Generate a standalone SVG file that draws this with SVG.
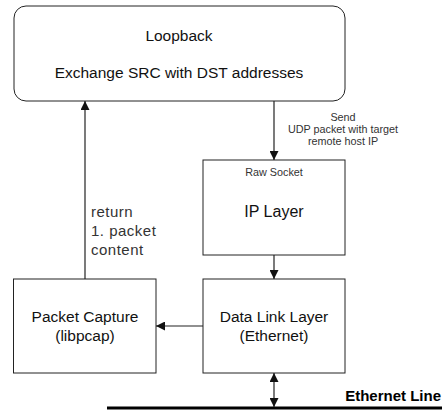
<svg xmlns="http://www.w3.org/2000/svg" width="444" height="410" viewBox="0 0 444 410">
<style>
.box{fill:#fff;stroke:#222;stroke-width:1}
.t{font-family:"Liberation Sans",Arial,sans-serif;fill:#111;text-anchor:middle}
.s{font-size:10.8px;fill:#333}
.m{font-size:15.5px}
.l{font-family:"Liberation Sans",Arial,sans-serif;font-size:15px;letter-spacing:0.5px;fill:#333}
.c{stroke:#222;stroke-width:1.2;fill:none}
</style>
<defs>
<marker id="ah" viewBox="0 0 10 10" refX="10" refY="5" markerWidth="9" markerHeight="9" markerUnits="userSpaceOnUse" orient="auto-start-reverse">
<path d="M0,0 L10,5 L0,10 z" fill="#111"/>
</marker>
</defs>
<rect width="444" height="410" fill="#fff"/>
<g id="loopback">
<rect class="box" x="14" y="6" width="331" height="95" rx="12"/>
<text class="t m" x="179" y="41">Loopback</text>
<text class="t m" x="179" y="78">Exchange SRC with DST addresses</text>
</g>
<g id="ip-layer">
<rect class="box" x="203" y="160" width="142" height="95"/>
<text class="t s" x="274" y="176">Raw Socket</text>
<text class="t" x="274" y="217" font-size="16">IP Layer</text>
</g>
<g id="data-link">
<rect class="box" x="203" y="279" width="142" height="94"/>
<text class="t m" x="274" y="322">Data Link Layer</text>
<text class="t m" x="274" y="341">(Ethernet)</text>
</g>
<g id="packet-capture">
<rect class="box" x="13.5" y="279" width="142.5" height="94"/>
<text class="t m" x="85" y="322">Packet Capture</text>
<text class="t m" x="85" y="341">(libpcap)</text>
</g>
<g id="ethernet-line">
<line x1="107" y1="408" x2="442" y2="408" stroke="#000" stroke-width="3"/>
<text x="441" y="401" font-family="'Liberation Sans',Arial,sans-serif" font-size="15" font-weight="bold" text-anchor="end" fill="#000">Ethernet Line</text>
</g>
<g id="connectors">
<line class="c" x1="274" y1="101" x2="274" y2="160" marker-end="url(#ah)"/>
<line class="c" x1="274" y1="255" x2="274" y2="279" marker-end="url(#ah)"/>
<line class="c" x1="203" y1="326" x2="156" y2="326" marker-end="url(#ah)"/>
<line class="c" x1="85" y1="279" x2="85" y2="101" marker-end="url(#ah)"/>
<line class="c" x1="274" y1="373" x2="274" y2="407" marker-start="url(#ah)" marker-end="url(#ah)"/>
<text class="t s" x="343" y="121">Send</text>
<text class="t s" x="343" y="133">UDP packet with target</text>
<text class="t s" x="343" y="145">remote host IP</text>
<text class="l" x="91" y="217">return</text>
<text class="l" x="91" y="236">1. packet</text>
<text class="l" x="91" y="255">content</text>
</g>
</svg>
